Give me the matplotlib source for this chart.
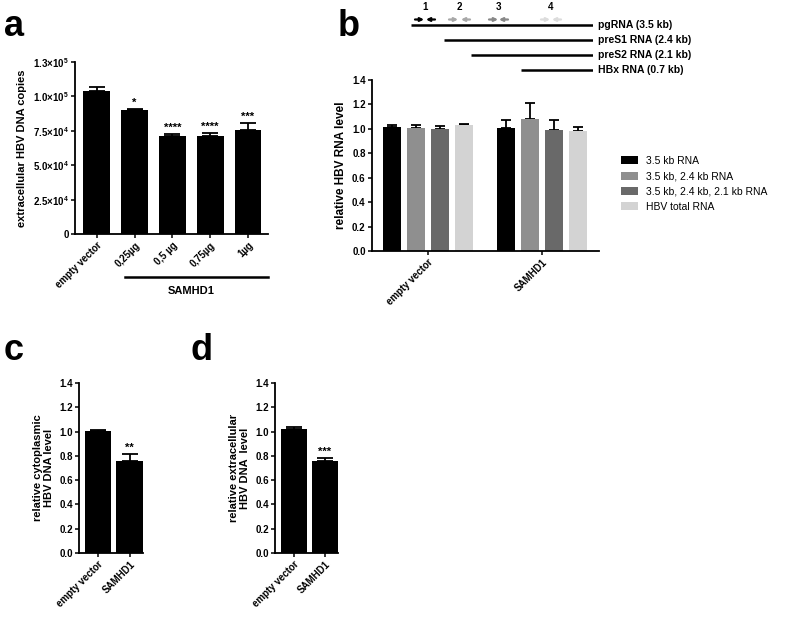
import numpy as np
import matplotlib
matplotlib.use("Agg")
import matplotlib.pyplot as plt

plt.rcParams['font.family'] = ['Liberation Sans', 'DejaVu Sans']
plt.rcParams['font.weight'] = 'bold'
plt.rcParams['mathtext.fontset'] = 'custom'
plt.rcParams['mathtext.rm'] = 'Liberation Sans:bold'
plt.rcParams['mathtext.it'] = 'Liberation Sans:bold'
plt.rcParams['mathtext.bf'] = 'Liberation Sans:bold'

# panel a
a_labels = ["empty vector", "0,25µg", "0,5 µg", "0,75µg", "1µg"]
a_means = [1.036e5, 0.898e5, 0.709e5, 0.709e5, 0.757e5]
a_err = [0.032e5, 0.010e5, 0.017e5, 0.024e5, 0.051e5]
a_stars = ["", "*", "****", "****", "***"]
a_ticks = [0, 2.5e4, 5.0e4, 7.5e4, 1.0e5, 1.25e5]
a_ticklabels = ["0", r"$2.5{\times}10^4$", r"$5.0{\times}10^4$", r"$7.5{\times}10^4$",
                r"$1.0{\times}10^5$", r"$1.3{\times}10^5$"]

# panel b
b_groups = ["empty vector", "SAMHD1"]
b_series = ["3.5 kb RNA", "3.5 kb, 2.4 kb RNA", "3.5 kb, 2.4 kb, 2.1 kb RNA", "HBV total RNA"]
b_colors = ["#000000", "#8f8f8f", "#696969", "#d3d3d3"]
b_means = [[1.017, 1.004], [1.009, 1.077], [1.001, 0.990], [1.031, 0.984]]
b_err = [[0.011, 0.065], [0.025, 0.134], [0.024, 0.085], [0.011, 0.033]]

# transcript map above panel b
tr_names = ["pgRNA (3.5 kb)", "preS1 RNA (2.4 kb)", "preS2 RNA (2.1 kb)", "HBx RNA (0.7 kb)"]
tr_start = [0, 33, 60, 110]
tr_end = 182
primer_ids = ["1", "2", "3", "4"]
primer_fwd = [8, 42, 82, 134]
primer_rev = [20, 55, 93, 146]
primer_colors = ["#000000", "#a8a8a8", "#888888", "#dcdcdc"]

# panels c, d
cd_labels = ["empty vector", "SAMHD1"]
c_means = [1.003, 0.757]
c_err = [0.009, 0.058]
d_means = [1.020, 0.757]
d_err = [0.014, 0.028]

W, H = 787, 618
fig = plt.figure(figsize=(W / 100, H / 100), dpi=100)


def px_axes(l, t, r, b):
    return fig.add_axes([l / W, 1 - b / H, (r - l) / W, (b - t) / H])


def style(ax):
    for s in ["top", "right"]:
        ax.spines[s].set_visible(False)
    for s in ["left", "bottom"]:
        ax.spines[s].set_linewidth(1.3)
    ax.tick_params(width=1.1, length=3, labelsize=7, pad=1.5)
    for t in ax.get_yticklabels() + ax.get_xticklabels():
        t.set_fontweight('bold')


def upper_err(ax, x, m, e, cap, lw=1.3):
    ax.errorbar(x, m, yerr=[np.zeros(len(m)), e], fmt='none', ecolor='black',
                elinewidth=lw, capsize=cap, capthick=lw, zorder=1)


# ---- a
ax = px_axes(75, 62, 268, 234)
xa = np.arange(len(a_means))
upper_err(ax, xa, a_means, a_err, 5.5)
ax.bar(xa, a_means, width=0.71, color='black', zorder=2)
for x, m, e, s in zip(xa, a_means, a_err, a_stars):
    if s:
        ax.text(x, m + e + 800, s, ha='center', va='bottom', fontsize=8, fontweight='bold')
ax.set_xlim(-0.58, 4.53)
ax.set_ylim(0, 1.25e5)
ax.set_yticks(a_ticks)
ax.set_yticklabels(a_ticklabels)
ax.set_xticks(xa)
ax.set_xticklabels(a_labels, rotation=45, ha='right', rotation_mode='anchor')
ax.set_ylabel("extracellular HBV DNA copies", fontsize=8, fontweight='bold', labelpad=4)
style(ax)
ax.plot([0.75, 4.53], [-0.25, -0.25], color='black', lw=1.8, clip_on=False,
        transform=ax.get_xaxis_transform())
ax.text(2.5, -0.30, "SAMHD1", ha='center', va='top', fontsize=8, fontweight='bold',
        transform=ax.get_xaxis_transform())

# ---- b
ax = px_axes(372, 80, 599, 251)
base = np.array([0.0, 4.75])
for i, (name, col) in enumerate(zip(b_series, b_colors)):
    xb = base + i
    upper_err(ax, xb, b_means[i], b_err[i], 3.5)
    ax.bar(xb, b_means[i], width=0.75, color=col, label=name, zorder=2)
ax.set_xlim(-0.83, 8.63)
ax.set_ylim(0, 1.4)
ax.set_yticks(np.arange(0, 1.41, 0.2))
ax.set_yticklabels([f"{v:.1f}" for v in np.arange(0, 1.41, 0.2)])
ax.set_xticks(base + 1.5)
ax.set_xticklabels(b_groups, rotation=45, ha='right', rotation_mode='anchor')
ax.set_ylabel("relative HBV RNA level", fontsize=8.5, fontweight='bold', labelpad=4)
style(ax)
ax.legend(loc='upper left', bbox_to_anchor=(1.08, 0.58), frameon=False,
          prop={'size': 7.5, 'weight': 'normal'}, handlelength=1.6, handleheight=0.8,
          labelspacing=0.5, handletextpad=0.8, borderaxespad=0)

# transcript map
dax = px_axes(411, 0, 593, 80)
dax.set_xlim(0, tr_end)
dax.set_ylim(80, 0)
dax.axis('off')
for i, (name, st) in enumerate(zip(tr_names, tr_start)):
    y = 25 + 15 * i
    dax.plot([st, tr_end], [y, y], color='black', lw=1.8, solid_capstyle='butt')
    dax.text(tr_end + 5, y, name, ha='left', va='center', fontsize=7.5, fontweight='bold')
for pid, f, r, c in zip(primer_ids, primer_fwd, primer_rev, primer_colors):
    dax.annotate('', xy=(f + 5, 19.5), xytext=(f - 4, 19.5),
                 arrowprops=dict(arrowstyle='-|>', color=c, lw=1.6, mutation_scale=5,
                                 shrinkA=0, shrinkB=0))
    dax.annotate('', xy=(r - 5, 19.5), xytext=(r + 4, 19.5),
                 arrowprops=dict(arrowstyle='-|>', color=c, lw=1.6, mutation_scale=5,
                                 shrinkA=0, shrinkB=0))
    dax.text((f + r) / 2, 7, pid, ha='center', va='center', fontsize=7, fontweight='bold')


# ---- c, d
def small_panel(l, r, means, err, stars, ylabel):
    ax = px_axes(l, 383, r, 553)
    xs = np.arange(len(means))
    upper_err(ax, xs, means, err, 5.5)
    ax.bar(xs, means, width=0.84, color='black', zorder=2)
    ax.text(1, means[1] + err[1] + 0.01, stars, ha='center', va='bottom',
            fontsize=8, fontweight='bold')
    ax.set_xlim(-0.6, 1.42)
    ax.set_ylim(0, 1.4)
    ax.set_yticks(np.arange(0, 1.41, 0.2))
    ax.set_yticklabels([f"{v:.1f}" for v in np.arange(0, 1.41, 0.2)])
    ax.set_xticks(xs)
    ax.set_xticklabels(cd_labels, rotation=45, ha='right', rotation_mode='anchor')
    ax.set_ylabel(ylabel, fontsize=8, fontweight='bold', labelpad=4, linespacing=1.1)
    style(ax)
    return ax


small_panel(79, 143, c_means, c_err, "**", "relative cytoplasmic\nHBV DNA level")
small_panel(275, 338, d_means, d_err, "***", "relative extracellular\nHBV DNA  level")

for lab, x, y in [("a", 4, 36), ("b", 338, 36), ("c", 4, 360), ("d", 190, 360)]:
    fig.text(x / W, 1 - y / H, lab, fontsize=26, fontweight='bold', ha='left', va='baseline')

fig.savefig("out.png", dpi=100)
